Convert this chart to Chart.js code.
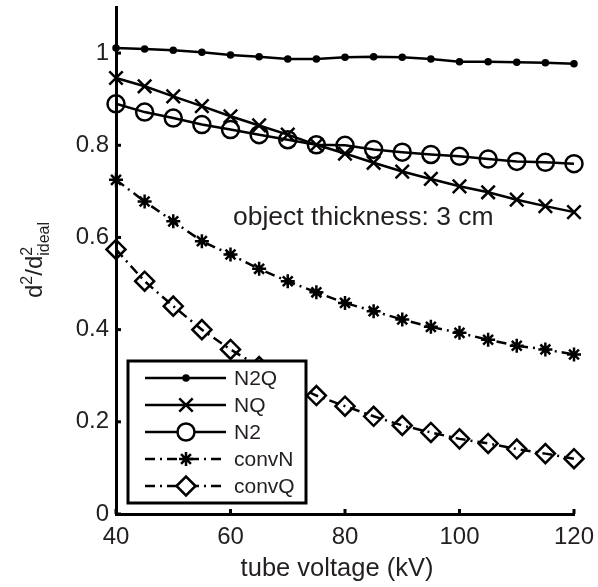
<!DOCTYPE html>
<html lang="en">
<head>
    <meta charset="UTF-8">
    <title>tube voltage</title>
    <script src="https://cdn.jsdelivr.net/npm/chart.js"></script>
    <style>
        body { margin: 0; background: #fff; }
        #chart { display: block; }
    </style>
</head>
<body>
    <canvas id="chart" width="598" height="587"></canvas>

    <script>
        // data
        const voltage = [40, 45, 50, 55, 60, 65, 70, 75, 80, 85, 90, 95, 100, 105, 110, 115, 120];
        const n2q   = [1.011, 1.009, 1.006, 1.002, 0.996, 0.992, 0.987, 0.987, 0.991, 0.992, 0.991, 0.987, 0.981, 0.981, 0.980, 0.979, 0.977];
        const nq    = [0.946, 0.928, 0.906, 0.885, 0.863, 0.843, 0.823, 0.801, 0.782, 0.762, 0.743, 0.727, 0.711, 0.698, 0.682, 0.668, 0.655];
        const n2    = [0.890, 0.872, 0.859, 0.845, 0.834, 0.823, 0.812, 0.801, 0.800, 0.791, 0.785, 0.780, 0.776, 0.770, 0.765, 0.763, 0.760];
        const convN = [0.725, 0.678, 0.635, 0.592, 0.563, 0.532, 0.505, 0.481, 0.458, 0.440, 0.422, 0.406, 0.393, 0.378, 0.365, 0.357, 0.346];
        const convQ = [0.574, 0.505, 0.451, 0.400, 0.357, 0.320, 0.287, 0.257, 0.234, 0.212, 0.192, 0.177, 0.163, 0.153, 0.141, 0.131, 0.120];

        const seriesNames = ['N2Q', 'NQ', 'N2', 'convN', 'convQ'];
        const xTicks = [40, 60, 80, 100, 120];
        const yTicks = [0, 0.2, 0.4, 0.6, 0.8, 1];

        const FONT = '"Liberation Sans", Arial, sans-serif';
        const INK = '#231f20';
        const dashDot = [10, 5, 2, 5];

        const styles = [
            { pointStyle: 'circle',   radius: 2.5, fill: '#000', dash: [] },
            { pointStyle: 'crossRot', radius: 9.5, fill: 'rgba(0,0,0,0)', dash: [] },
            { pointStyle: 'circle',   radius: 8.5, fill: 'rgba(0,0,0,0)', dash: [] },
            { pointStyle: 'star',     radius: 7,   fill: 'rgba(0,0,0,0)', dash: dashDot },
            { pointStyle: 'rectRot',  radius: 9.5, fill: 'rgba(0,0,0,0)', dash: dashDot }
        ];
        const allSeries = [n2q, nq, n2, convN, convQ];

        const datasets = allSeries.map((vals, i) => ({
            label: seriesNames[i],
            data: voltage.map((v, j) => ({ x: v, y: vals[j] })),
            borderColor: '#000',
            borderWidth: 2.5,
            borderDash: styles[i].dash,
            pointStyle: styles[i].pointStyle,
            pointRadius: styles[i].radius,
            pointBorderWidth: 2.5,
            pointBorderColor: '#000',
            pointBackgroundColor: styles[i].fill,
            tension: 0,
            clip: false
        }));

        function noPad(s) {
            s.paddingTop = 0; s.paddingBottom = 0; s.paddingLeft = 0; s.paddingRight = 0;
        }

        // inward ticks, titles, annotation and the boxed legend
        const extras = {
            id: 'extras',
            afterDatasetsDraw(chart) {
                const ctx = chart.ctx;
                const xs = chart.scales.x, ys = chart.scales.y;
                const area = chart.chartArea;
                ctx.save();
                ctx.strokeStyle = '#000';
                ctx.lineWidth = 3;
                xTicks.forEach(v => {
                    const px = xs.getPixelForValue(v);
                    ctx.beginPath(); ctx.moveTo(px, area.bottom); ctx.lineTo(px, area.bottom - 5); ctx.stroke();
                });
                yTicks.forEach(v => {
                    const py = ys.getPixelForValue(v);
                    ctx.beginPath(); ctx.moveTo(area.left, py); ctx.lineTo(area.left + 5, py); ctx.stroke();
                });

                // annotation
                ctx.fillStyle = INK;
                ctx.font = '26.5px ' + FONT;
                ctx.textBaseline = 'alphabetic';
                ctx.textAlign = 'left';
                ctx.fillText('object thickness: 3 cm', 233, 225);

                // x title
                ctx.font = '25.5px ' + FONT;
                ctx.textAlign = 'center';
                ctx.textBaseline = 'middle';
                ctx.fillText('tube voltage (kV)', 337, 569);

                // y title: d^2/d^2_ideal, rotated
                ctx.save();
                ctx.translate(42, 260);
                ctx.rotate(-Math.PI / 2);
                ctx.textAlign = 'left';
                ctx.textBaseline = 'alphabetic';
                const big = '24px ' + FONT, small = '16px ' + FONT;
                ctx.font = big;
                const wD = ctx.measureText('d').width, wSlashD = ctx.measureText('/d').width;
                ctx.font = small;
                const w2 = ctx.measureText('2').width, wIdeal = ctx.measureText('ideal').width;
                const total = wD + w2 + wSlashD + Math.max(w2, wIdeal);
                let x = -total / 2;
                ctx.font = big; ctx.fillText('d', x, 0); x += wD;
                ctx.font = small; ctx.fillText('2', x, -10); x += w2;
                ctx.font = big; ctx.fillText('/d', x, 0); x += wSlashD;
                ctx.font = small; ctx.fillText('2', x, -10); ctx.fillText('ideal', x, 7);
                ctx.restore();

                // legend box
                const L = 128, T = 361, R = 306, B = 503;
                ctx.fillStyle = '#fff';
                ctx.fillRect(L, T, R - L, B - T);
                ctx.strokeStyle = '#000';
                ctx.lineWidth = 3;
                ctx.strokeRect(L, T, R - L, B - T);
                const rowY = [378, 405, 432, 459, 486];
                seriesNames.forEach((name, i) => {
                    const y = rowY[i];
                    ctx.save();
                    ctx.lineWidth = 2.5;
                    ctx.setLineDash(styles[i].dash);
                    ctx.beginPath(); ctx.moveTo(145, y); ctx.lineTo(226, y); ctx.stroke();
                    ctx.restore();
                    ctx.save();
                    ctx.lineWidth = 2.5;
                    ctx.strokeStyle = '#000';
                    ctx.fillStyle = i === 0 ? '#000' : '#fff';
                    Chart.helpers.drawPoint(ctx, {
                        pointStyle: styles[i].pointStyle,
                        radius: styles[i].radius,
                        borderWidth: 2.5,
                        rotation: 0
                    }, 186, y);
                    ctx.restore();
                    ctx.fillStyle = INK;
                    ctx.font = '21px ' + FONT;
                    ctx.textAlign = 'left';
                    ctx.textBaseline = 'middle';
                    ctx.fillText(name, 234, y + 1);
                });
                ctx.restore();
            }
        };

        new Chart(document.getElementById('chart'), {
            type: 'line',
            data: { datasets: datasets },
            options: {
                responsive: false,
                animation: false,
                layout: { autoPadding: false, padding: { left: 0, top: 7, right: 24, bottom: 0 } },
                plugins: {
                    legend: { display: false },
                    tooltip: { enabled: false }
                },
                scales: {
                    x: {
                        type: 'linear',
                        min: 40,
                        max: 120,
                        afterBuildTicks: s => { s.ticks = xTicks.map(v => ({ value: v })); },
                        afterFit: s => { s.height = 73; noPad(s); },
                        grid: { display: false, drawTicks: false },
                        border: { display: true, color: '#000', width: 3 },
                        ticks: { padding: 9, color: INK, font: { family: FONT, size: 24 }, maxRotation: 0 }
                    },
                    y: {
                        type: 'linear',
                        min: 0,
                        max: 1.1,
                        afterBuildTicks: s => { s.ticks = yTicks.map(v => ({ value: v })); },
                        afterFit: s => { s.width = 116; noPad(s); },
                        grid: { display: false, drawTicks: false },
                        border: { display: true, color: '#000', width: 3 },
                        ticks: { padding: 7, color: INK, font: { family: FONT, size: 24 }, callback: v => String(v) }
                    }
                }
            },
            plugins: [extras]
        });
    </script>
</body>
</html>
